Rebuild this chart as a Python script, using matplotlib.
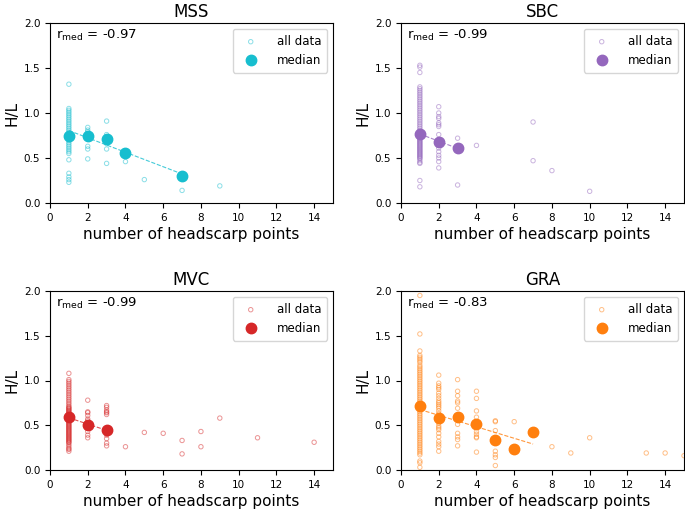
import numpy as np
import matplotlib
matplotlib.use("Agg")
import matplotlib.pyplot as plt

# H/L values per number of headscarp points
mss_pts = {
    1: [1.32, 1.05, 1.03, 1.01, 0.99, 0.97, 0.95, 0.93, 0.91, 0.89, 0.87, 0.85,
        0.83, 0.81, 0.79, 0.77, 0.75, 0.73, 0.71, 0.69, 0.67, 0.65, 0.63, 0.61,
        0.59, 0.57, 0.55, 0.48, 0.33, 0.29, 0.26, 0.23],
    2: [0.84, 0.81, 0.79, 0.74, 0.63, 0.60, 0.49],
    3: [0.91, 0.76, 0.73, 0.71, 0.66, 0.60, 0.44],
    4: [0.56, 0.46],
    5: [0.26],
    7: [0.30, 0.14],
    9: [0.19],
}
sbc_pts = {
    1: [1.53, 1.51, 1.45, 1.29, 1.27, 1.25, 1.23, 1.21, 1.19, 1.17, 1.15, 1.13,
        1.11, 1.09, 1.07, 1.05, 1.03, 1.01, 0.99, 0.97, 0.95, 0.93, 0.91, 0.89,
        0.87, 0.85, 0.83, 0.81, 0.79, 0.77, 0.76, 0.75, 0.74, 0.73, 0.72, 0.71,
        0.70, 0.69, 0.68, 0.67, 0.66, 0.65, 0.64, 0.63, 0.62, 0.61, 0.60, 0.59,
        0.58, 0.57, 0.56, 0.55, 0.54, 0.53, 0.52, 0.51, 0.50, 0.49, 0.47, 0.45,
        0.44, 0.25, 0.18],
    2: [1.07, 1.00, 0.96, 0.94, 0.89, 0.87, 0.85, 0.76, 0.70, 0.66, 0.64, 0.61,
        0.57, 0.53, 0.50, 0.46, 0.39],
    3: [0.72, 0.61, 0.20],
    4: [0.64],
    7: [0.90, 0.47],
    8: [0.36],
    10: [0.13],
}
mvc_pts = {
    1: [1.08, 1.01, 0.99, 0.97, 0.95, 0.93, 0.91, 0.89, 0.87, 0.85, 0.83, 0.81,
        0.79, 0.77, 0.75, 0.73, 0.71, 0.70, 0.69, 0.68, 0.67, 0.66, 0.65, 0.64,
        0.63, 0.62, 0.61, 0.60, 0.59, 0.58, 0.57, 0.56, 0.55, 0.54, 0.53, 0.52,
        0.51, 0.50, 0.49, 0.48, 0.47, 0.46, 0.45, 0.44, 0.43, 0.42, 0.41, 0.40,
        0.39, 0.38, 0.37, 0.36, 0.35, 0.34, 0.33, 0.32, 0.31, 0.30, 0.28, 0.26,
        0.24, 0.23, 0.21],
    2: [0.78, 0.65, 0.64, 0.61, 0.57, 0.55, 0.52, 0.50, 0.47, 0.43, 0.39, 0.36],
    3: [0.72, 0.70, 0.67, 0.65, 0.64, 0.62, 0.45, 0.41, 0.39, 0.35, 0.30, 0.27],
    4: [0.26],
    5: [0.42],
    6: [0.41],
    7: [0.33, 0.18],
    8: [0.43, 0.26],
    9: [0.58],
    11: [0.36],
    14: [0.31],
}
gra_pts = {
    1: [1.95, 1.52, 1.33, 1.28, 1.26, 1.24, 1.22, 1.20, 1.17, 1.15, 1.13, 1.11,
        1.09, 1.07, 1.05, 1.03, 1.01, 0.99, 0.97, 0.95, 0.93, 0.91, 0.89, 0.87,
        0.85, 0.83, 0.81, 0.79, 0.77, 0.75, 0.73, 0.71, 0.69, 0.67, 0.65, 0.63,
        0.61, 0.59, 0.57, 0.55, 0.53, 0.51, 0.49, 0.47, 0.45, 0.43, 0.41, 0.39,
        0.37, 0.35, 0.33, 0.31, 0.29, 0.27, 0.25, 0.23, 0.21, 0.19, 0.17, 0.10,
        0.08, 0.03],
    2: [1.06, 0.97, 0.94, 0.92, 0.90, 0.86, 0.83, 0.80, 0.77, 0.75, 0.73, 0.71,
        0.69, 0.66, 0.63, 0.60, 0.58, 0.55, 0.52, 0.49, 0.47, 0.45, 0.41, 0.37,
        0.32, 0.29, 0.26, 0.21],
    3: [1.01, 0.88, 0.83, 0.77, 0.75, 0.69, 0.59, 0.51, 0.41, 0.37, 0.34, 0.27],
    4: [0.88, 0.80, 0.66, 0.59, 0.51, 0.43, 0.40, 0.37, 0.36, 0.20],
    5: [0.55, 0.54, 0.44, 0.33, 0.21, 0.17, 0.14, 0.05],
    6: [0.54, 0.23],
    7: [0.43, 0.39],
    8: [0.26],
    9: [0.19],
    10: [0.36],
    13: [0.19],
    14: [0.19],
    15: [0.16],
}

# medians
mss_med_x = [1, 2, 3, 4, 7]
mss_med_y = [0.75, 0.74, 0.71, 0.56, 0.30]
sbc_med_x = [1, 2, 3]
sbc_med_y = [0.77, 0.68, 0.61]
mvc_med_x = [1, 2, 3]
mvc_med_y = [0.59, 0.50, 0.45]
gra_med_x = [1, 2, 3, 4, 5, 6, 7]
gra_med_y = [0.71, 0.58, 0.59, 0.51, 0.33, 0.23, 0.43]

names = ["MSS", "SBC", "MVC", "GRA"]
r_med = ["-0.97", "-0.99", "-0.99", "-0.83"]
colors = ["#17becf", "#9467bd", "#d62728", "#ff7f0e"]

panels = [
    (mss_pts, mss_med_x, mss_med_y),
    (sbc_pts, sbc_med_x, sbc_med_y),
    (mvc_pts, mvc_med_x, mvc_med_y),
    (gra_pts, gra_med_x, gra_med_y),
]

fig = plt.figure(figsize=(6.85, 5.15), dpi=100)
W, H = 685.0, 515.0
boxes = [(50, 23, 333, 203), (401, 23, 684, 203),
         (50, 291, 333, 470), (401, 291, 684, 470)]

for i, (pts, mx, my) in enumerate(panels):
    x0, y0, x1, y1 = boxes[i]
    ax = fig.add_axes([x0 / W, 1 - y1 / H, (x1 - x0) / W, (y1 - y0) / H])
    c = colors[i]

    xs = []
    ys = []
    for k, v in pts.items():
        xs += [k] * len(v)
        ys += v
    ax.scatter(xs, ys, s=10, facecolors="none", edgecolors=c, linewidths=0.7,
               alpha=0.5, label="all data", zorder=2)

    # linear fit through the medians
    p = np.polyfit(mx, my, 1)
    fx = np.array([min(mx), max(mx)])
    ax.plot(fx, np.polyval(p, fx), "--", color=c, lw=0.8, alpha=0.8, zorder=3)
    ax.plot(mx, my, "o", ms=7.5, color=c, label="median", zorder=4)

    ax.set_xlim(0, 15)
    ax.set_ylim(0, 2)
    ax.set_xticks(range(0, 15, 2))
    ax.set_yticks([0, 0.5, 1.0, 1.5, 2.0])
    ax.tick_params(labelsize=7.5, length=3.5)
    ax.set_title(names[i], fontsize=12, pad=4)
    ax.set_xlabel("number of headscarp points", fontsize=11, labelpad=3)
    ax.set_ylabel("H/L", fontsize=11, labelpad=3)
    ax.text(0.02, 0.97, r"r$_{\rm med}$ = " + r_med[i], transform=ax.transAxes,
            fontsize=9.5, va="top", ha="left")
    ax.legend(loc="upper right", fontsize=8.5, scatterpoints=1, handletextpad=1.2,
              borderpad=0.5)

fig.savefig("out.png", dpi=100)
